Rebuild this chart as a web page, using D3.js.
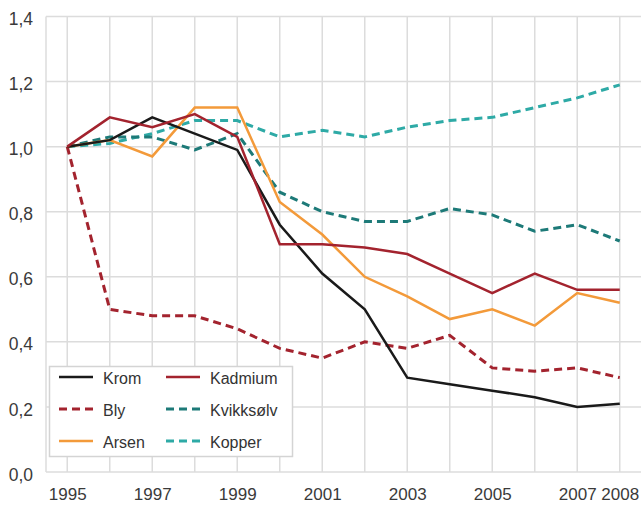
<!DOCTYPE html>
<html><head><meta charset="utf-8">
<script src="https://cdn.jsdelivr.net/npm/d3@7"></script>
<style>body{margin:0;background:#fff}svg{display:block}</style>
</head><body><div id="c"></div>
<script>
const years = [1995,1996,1997,1998,1999,2000,2001,2002,2003,2004,2005,2006,2007,2008];
const krom      = [1.00,1.02,1.09,1.04,0.99,0.76,0.61,0.50,0.29,0.27,0.25,0.23,0.20,0.21];
const kadmium   = [1.00,1.09,1.06,1.10,1.03,0.70,0.70,0.69,0.67,0.61,0.55,0.61,0.56,0.56];
const arsen     = [1.00,1.02,0.97,1.12,1.12,0.83,0.73,0.60,0.54,0.47,0.50,0.45,0.55,0.52];
const bly       = [1.00,0.50,0.48,0.48,0.44,0.38,0.35,0.40,0.38,0.42,0.32,0.31,0.32,0.29];
const kvikksolv = [1.00,1.03,1.03,0.99,1.04,0.86,0.80,0.77,0.77,0.81,0.79,0.74,0.76,0.71];
const kopper    = [1.00,1.01,1.04,1.08,1.08,1.03,1.05,1.03,1.06,1.08,1.09,1.12,1.15,1.19];
const yTicks = [0,0.2,0.4,0.6,0.8,1.0,1.2,1.4];
const xTickLabels = [1995,1997,1999,2001,2003,2005,2007,2008];

const series = [
  {name:"Krom", values:krom, color:"#1a1a1a", dash:null},
  {name:"Bly", values:bly, color:"#a3232e", dash:"8,5"},
  {name:"Arsen", values:arsen, color:"#f39a3a", dash:null},
  {name:"Kadmium", values:kadmium, color:"#a3232e", dash:null},
  {name:"Kvikksølv", values:kvikksolv, color:"#1d7a78", dash:"8,5"},
  {name:"Kopper", values:kopper, color:"#2eaaa6", dash:"8,5"}
];

const W=641,H=506;
const svg=d3.select("#c").append("svg").attr("width",W).attr("height",H);
const x=d3.scaleLinear().domain([1994.5,2008.5]).range([46,641]);
const y=d3.scaleLinear().domain([0,1.4]).range([472,16.5]);
const font="Liberation Sans, Arial, sans-serif";

// grid
const g=svg.append("g");
g.selectAll(".hg").data(yTicks).enter().append("line")
  .attr("x1",46).attr("x2",641).attr("y1",d=>y(d)).attr("y2",d=>y(d))
  .attr("stroke","#dcdcdc").attr("stroke-width",1.5);
g.selectAll(".vg").data(years).enter().append("line")
  .attr("x1",d=>x(d)).attr("x2",d=>x(d)).attr("y1",y(1.4)).attr("y2",y(0))
  .attr("stroke","#dcdcdc").attr("stroke-width",1.5);
g.append("line").attr("x1",46).attr("x2",46).attr("y1",y(1.4)).attr("y2",y(0))
  .attr("stroke","#dcdcdc").attr("stroke-width",1.5);

// axes labels
const fmt=d=>d3.format(".1f")(d).replace(".",",");
svg.append("g").attr("transform","translate(36,2)")
  .call(d3.axisLeft(y).tickValues(yTicks).tickFormat(fmt).tickSize(0))
  .call(a=>a.select(".domain").remove())
  .call(a=>a.selectAll("text").attr("font-family",font).attr("font-size",17.5).attr("fill","#3a3a3a").attr("dy","0.35em"));
svg.append("g").attr("transform","translate(0,482)")
  .call(d3.axisBottom(x).tickValues(xTickLabels).tickFormat(d3.format("d")).tickSize(0))
  .call(a=>a.select(".domain").remove())
  .call(a=>a.selectAll("text").attr("font-family",font).attr("font-size",17).attr("fill","#3a3a3a").attr("dy","0.9em"));

// lines
const line=d3.line().x((d,i)=>x(years[i])).y(d=>y(d));
const drawOrder=[5,4,1,2,0,3];
drawOrder.forEach(i=>{
  const s=series[i];
  svg.append("path").datum(s.values).attr("d",line).attr("fill","none")
    .attr("stroke",s.color).attr("stroke-width",s.dash?3:2.5)
    .attr("stroke-dasharray",s.dash).attr("stroke-linejoin","miter");
});

// legend
const lg=svg.append("g");
lg.append("rect").attr("x",49.5).attr("y",366.5).attr("width",243).attr("height",90)
  .attr("fill","#fff").attr("stroke","#d4d4d4").attr("stroke-width",1.5);
series.forEach((s,i)=>{
  const col=Math.floor(i/3), row=i%3;
  const lx=col?166:59, ly=377+row*32;
  lg.append("line").attr("x1",lx).attr("x2",lx+34).attr("y1",ly).attr("y2",ly)
    .attr("stroke",s.color).attr("stroke-width",s.dash?3:2.5).attr("stroke-dasharray",s.dash);
  lg.append("text").attr("x",lx+44).attr("y",ly+1).attr("dy","0.35em")
    .attr("font-family",font).attr("font-size",16).attr("fill","#333").text(s.name);
});
</script></body></html>
